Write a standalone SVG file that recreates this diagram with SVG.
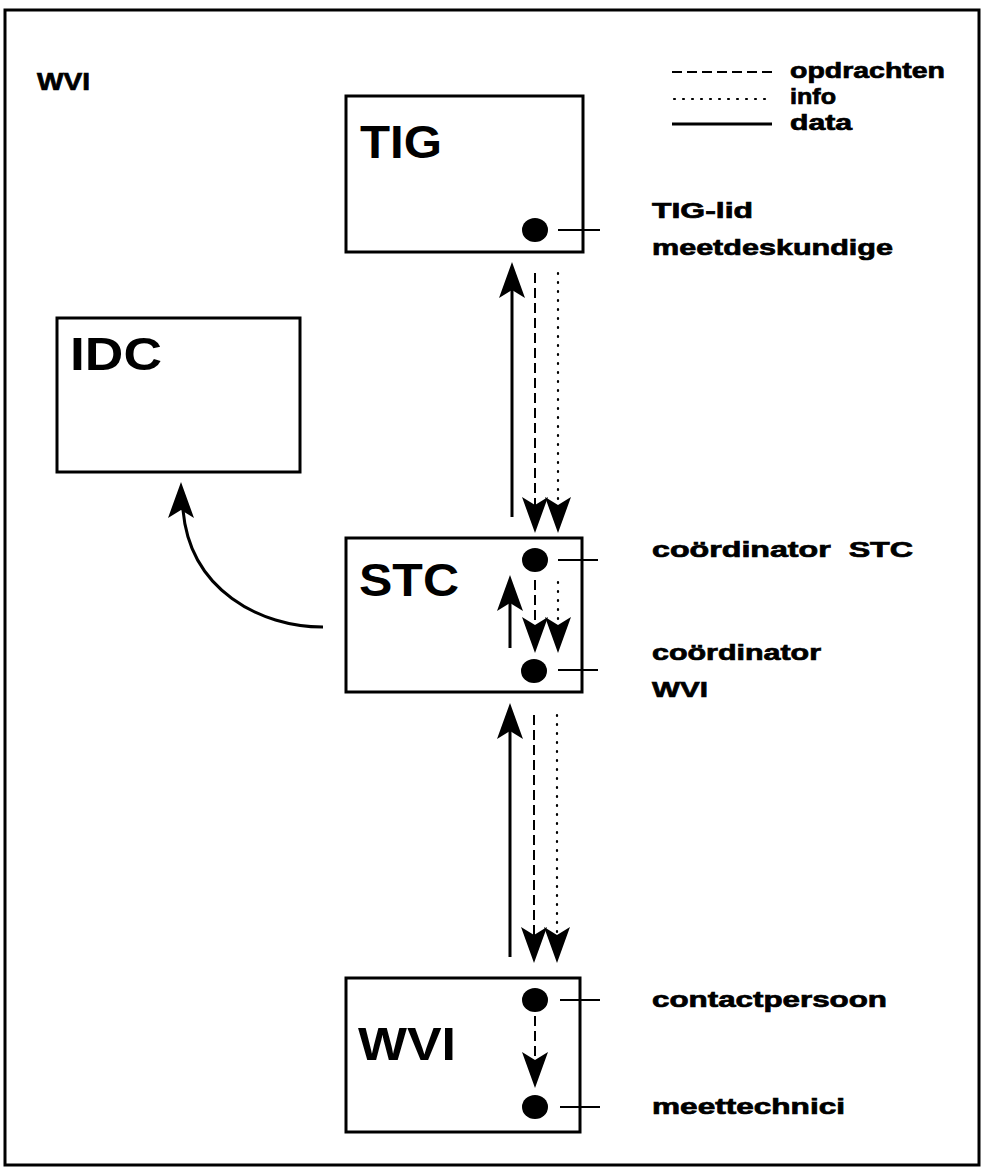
<svg xmlns="http://www.w3.org/2000/svg" width="984" height="1176" viewBox="0 0 984 1176">
<style>
.box{fill:none;stroke:#000;stroke-width:3}
.big{font-family:"Liberation Sans",Arial,sans-serif;font-weight:bold;font-size:46px;fill:#000}
.lbl{font-family:"Liberation Sans",Arial,sans-serif;font-weight:bold;font-size:22px;fill:#000;stroke:#000;stroke-width:0.7;white-space:pre}
.solid{fill:none;stroke:#000;stroke-width:3}
.dash{fill:none;stroke:#000;stroke-width:2;stroke-dasharray:10 5}
.dot{fill:none;stroke:#000;stroke-width:2.2;stroke-dasharray:1 8;stroke-linecap:round}
.thin{fill:none;stroke:#000;stroke-width:2}
.head{fill:#000}
</style>
<defs>
<path id="hd" d="M0,0 L-13,-36 L0,-28 L13,-36 Z"/>
<path id="hu" d="M0,0 L-13,36 L0,28 L13,36 Z"/>
</defs>
<rect x="0" y="0" width="984" height="1176" fill="#fff"/>
<rect x="5" y="10" width="974" height="1155" class="box"/>
<text x="37" y="90" class="lbl" style="font-size:24px" textLength="53" lengthAdjust="spacingAndGlyphs">WVI</text>
<g id="legend">
<line x1="672" y1="72" x2="772" y2="72" class="dash"/>
<text x="790" y="78" class="lbl" textLength="155" lengthAdjust="spacingAndGlyphs">opdrachten</text>
<line x1="674" y1="99" x2="772" y2="99" class="dot"/>
<text x="790" y="104" class="lbl" textLength="46" lengthAdjust="spacingAndGlyphs">info</text>
<line x1="672" y1="124" x2="772" y2="124" class="solid"/>
<text x="790" y="130" class="lbl" textLength="62" lengthAdjust="spacingAndGlyphs">data</text>
</g>
<g id="TIG">
<rect x="346" y="96" width="237" height="156" class="box"/>
<text x="360" y="158" class="big" textLength="82" lengthAdjust="spacingAndGlyphs">TIG</text>
<ellipse cx="535" cy="230" rx="13" ry="12"/>
<line x1="558" y1="230" x2="600" y2="230" class="thin"/>
<text x="652" y="218" class="lbl" textLength="101" lengthAdjust="spacingAndGlyphs">TIG-lid</text>
<text x="652" y="255" class="lbl" textLength="241" lengthAdjust="spacingAndGlyphs">meetdeskundige</text>
</g>
<g id="IDC">
<rect x="57" y="318" width="243" height="154" class="box"/>
<text x="70" y="370" class="big" textLength="92" lengthAdjust="spacingAndGlyphs">IDC</text>
</g>
<g id="STC">
<rect x="346" y="538" width="236" height="154" class="box"/>
<text x="359" y="596" class="big" textLength="100" lengthAdjust="spacingAndGlyphs">STC</text>
<ellipse cx="535" cy="560" rx="13" ry="12"/>
<ellipse cx="534" cy="671" rx="13" ry="12"/>
<line x1="558" y1="560" x2="598" y2="560" class="thin"/>
<line x1="558" y1="670" x2="598" y2="670" class="thin"/>
<text x="652" y="557" class="lbl" textLength="261" lengthAdjust="spacingAndGlyphs">coördinator  STC</text>
<text x="652" y="660" class="lbl" textLength="169" lengthAdjust="spacingAndGlyphs">coördinator</text>
<text x="652" y="697" class="lbl" textLength="56" lengthAdjust="spacingAndGlyphs">WVI</text>
</g>
<g id="WVI">
<rect x="346" y="978" width="234" height="154" class="box"/>
<text x="358" y="1060" class="big" textLength="98" lengthAdjust="spacingAndGlyphs">WVI</text>
<ellipse cx="535" cy="1000" rx="13" ry="12"/>
<ellipse cx="535" cy="1107" rx="13" ry="12"/>
<line x1="560" y1="1000" x2="600" y2="1000" class="thin"/>
<line x1="560" y1="1107" x2="600" y2="1107" class="thin"/>
<text x="652" y="1007" class="lbl" textLength="235" lengthAdjust="spacingAndGlyphs">contactpersoon</text>
<text x="652" y="1114" class="lbl" textLength="193" lengthAdjust="spacingAndGlyphs">meettechnici</text>
</g>
<g id="connectors">
<line x1="512" y1="290" x2="512" y2="517" class="solid"/>
<use href="#hu" x="512" y="262" class="head"/>
<line x1="535" y1="273" x2="535" y2="510" class="dash"/>
<use href="#hd" x="535" y="533" class="head"/>
<line x1="558" y1="273" x2="558" y2="510" class="dot"/>
<use href="#hd" x="558" y="533" class="head"/>
<line x1="510" y1="600" x2="510" y2="648" class="solid"/>
<use href="#hu" x="510" y="575" class="head"/>
<line x1="535" y1="580" x2="535" y2="630" class="dash"/>
<use href="#hd" x="535" y="653" class="head"/>
<line x1="558" y1="582" x2="558" y2="630" class="dot"/>
<use href="#hd" x="558" y="653" class="head"/>
<line x1="510" y1="730" x2="510" y2="957" class="solid"/>
<use href="#hu" x="510" y="703" class="head"/>
<line x1="534" y1="715" x2="534" y2="940" class="dash"/>
<use href="#hd" x="534" y="963" class="head"/>
<line x1="557" y1="715" x2="557" y2="940" class="dot"/>
<use href="#hd" x="557" y="963" class="head"/>
<line x1="535" y1="1016" x2="535" y2="1062" class="dash"/>
<use href="#hd" x="535" y="1088" class="head"/>
<path d="M323,627 C260,627 190,590 183,510" class="solid"/>
<use href="#hu" x="181" y="482" class="head"/>
</g>
</svg>
